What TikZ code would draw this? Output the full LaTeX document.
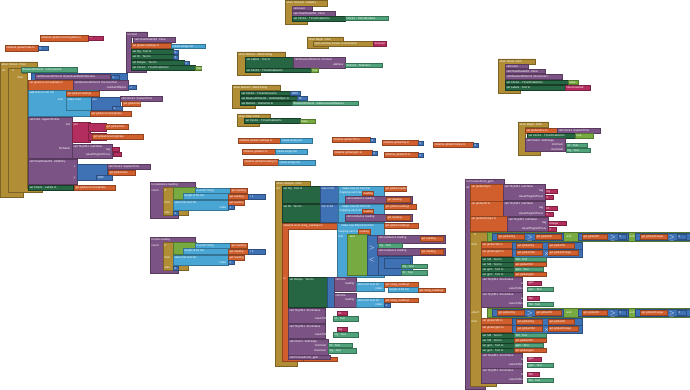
\documentclass[tikz,border=0pt]{standalone}
\usepackage{fontspec}
\setmainfont{Liberation Sans}
\definecolor{evtc}{HTML}{B18E35}
\definecolor{procc}{HTML}{7C5385}
\definecolor{setc}{HTML}{266643}
\definecolor{getc}{HTML}{4FA27A}
\definecolor{varc}{HTML}{D05F2D}
\definecolor{lstc}{HTML}{49A6D4}
\definecolor{mathc}{HTML}{3F71B5}
\definecolor{logc}{HTML}{77AB41}
\definecolor{txtc}{HTML}{B32D5E}
\tikzset{
  evtb/.style={fill=evtc, draw=evtc!70!black, line width=0.2pt},
  procb/.style={fill=procc, draw=procc!70!black, line width=0.2pt},
  setb/.style={fill=setc, draw=setc!60!black, line width=0.2pt},
  getb/.style={fill=getc, draw=getc!70!black, line width=0.2pt},
  varb/.style={fill=varc, draw=varc!70!black, line width=0.2pt},
  lstb/.style={fill=lstc, draw=lstc!70!black, line width=0.2pt},
  mathb/.style={fill=mathc, draw=mathc!70!black, line width=0.2pt},
  logb/.style={fill=logc, draw=logc!70!black, line width=0.2pt},
  txtb/.style={fill=txtc, draw=txtc!70!black, line width=0.2pt},
  lbl/.style={anchor=north west, inner sep=0.4pt, text=white, font=\fontsize{2.4}{2.6}\selectfont},
  rlbl/.style={lbl, anchor=north east}
}
% plain block: style, x1, y1, x2, y2, text
\newcommand{\blk}[6]{\filldraw[#1] (#2,#3) rectangle (#4,#5); \node[lbl] at (#2+0.8,#3+0.6) {#6};}
% c-shaped block: style, x1, y1, header right, header bottom, column right, bottom top, bottom, text
\newcommand{\cblk}[9]{\filldraw[#1] (#2,#3) -- (#4,#3) -- (#4,#5) -- (#6,#5) -- (#6,#7) -- (#6+15,#7) -- (#6+15,#8) -- (#2,#8) -- cycle; \node[lbl] at (#2+0.8,#3+0.6) {#9};}
% row label: x, y, text
\newcommand{\lab}[3]{\node[rlbl] at (#1,#2) {#3};}
\begin{document}
\begin{tikzpicture}[x=0.3mm,y=-0.3mm]
\fill[white] (0,0) rectangle (690,390);
\useasboundingbox (0,0) rectangle (690,390);

% globals top left
\blk{varb}{40}{35}{88}{41}{initialize global incomingData to}
\blk{txtb}{88}{36}{103}{40}{`` ''}
\blk{varb}{5}{45}{38}{51}{initialize global Data to}
\blk{mathb}{38}{46}{48}{50}{0}

% when Clock1.Timer
\cblk{evtb}{0}{62}{37}{68}{8}{192}{197}{when Clock1 .Timer}
\node[lbl] at (1.5,69) {do};
\cblk{evtb}{8}{68}{22}{73}{27}{188}{192}{\quad if}
\node[lbl] at (17,76) {then};
\blk{getb}{21}{67}{77}{72}{BluetoothClient1 . IsConnected}
\blk{mathb}{31}{73}{127}{80}{}
\blk{procb}{35}{74}{110}{79}{call BluetoothClient1 .BytesAvailableToReceive}
\blk{mathb}{111}{75}{119}{79}{0}
\blk{varb}{28}{80}{73}{90}{set global incomingData to}
\blk{procb}{73}{80}{128}{90}{call BluetoothClient1 .ReceiveText}
\lab{127}{85.5}{numberOfBytes}
\blk{mathb}{128}{85}{136}{89}{-1}
\blk{lstb}{28}{90}{97}{116}{add items to list \ list}
\lab{64}{98}{item}
\blk{varb}{66}{91}{99}{96}{get global readings}
\blk{lstb}{66}{97}{91}{110}{make a list}
\blk{mathb}{91}{97}{120}{110}{join}
\blk{procb}{120}{96}{162}{101}{call Clock1 .SystemTime}
\blk{varb}{122}{101}{140}{106}{get global time}
\blk{mathb}{112}{106}{122}{110}{1}
\blk{varb}{90}{111}{131}{116}{get global incomingData}
\blk{procb}{28}{117}{72}{158}{call File1 .AppendToFile}
\lab{71}{123}{text}
\lab{71}{147}{fileName}
\blk{txtb}{72}{122}{90}{142}{join}
\blk{txtb}{88}{123}{106}{131}{}
\blk{varb}{105}{124}{128}{129}{get global time}
\blk{txtb}{88}{133}{106}{140}{}
\blk{varb}{92}{134}{143}{139}{get global incomingData}
\blk{procb}{72}{144}{112}{158}{call TinyDB1 .GetValue}
\lab{111}{148}{tag}
\lab{111}{153}{valueIfTagNotThere}
\blk{txtb}{112}{147}{119}{151}{}
\blk{txtb}{113}{152}{121}{156}{}
\blk{procb}{28}{159}{77}{184}{call ChartData2D1 .AddEntry}
\lab{76}{165}{x}
\lab{76}{176}{y}
\blk{mathb}{77}{164}{107}{180}{}
\blk{procb}{107}{164}{150}{169}{call Clock1 .SystemTime}
\blk{varb}{108}{170}{135}{175}{get global time}
\blk{mathb}{96}{175}{112}{180}{1000}
\blk{setb}{28}{185}{73}{190}{set Chart1 . Labels to}
\blk{varb}{74}{185}{115}{190}{get global incomingData}

% to reset
\cblk{procb}{126}{32}{147}{37}{131}{70}{72}{to reset}
\blk{procb}{133}{37}{175}{42}{call ChartData2D1 .Clear}
\blk{varb}{131}{43}{171}{48}{set global readings to}
\blk{lstb}{171}{44}{205}{48}{create empty list}
\blk{setb}{131}{49}{173}{54}{set Rg . Text to}
\blk{mathb}{173}{50}{178}{54}{0}
\blk{setb}{131}{54}{173}{59}{set Rt . Text to}
\blk{mathb}{173}{55}{178}{59}{0}
\blk{setb}{131}{60}{184}{65}{set Rslope . Text to}
\blk{mathb}{184}{61}{189}{65}{0}
\blk{setb}{131}{65}{195}{70}{set Clock1 . TimerEnabled to}
\blk{logb}{195}{66}{201}{70}{false}

% when Screen1.Initialize
\cblk{evtb}{285}{0}{327}{6}{292}{21}{24}{when Screen1 .Initialize}
\blk{procb}{292}{6}{312}{10}{call reset}
\blk{procb}{292}{11}{335}{16}{call ChartData2D1 .Clear}
\blk{setb}{292}{16}{345}{21}{set Clock1 . TimerEnabled to}
\blk{getb}{345}{16}{388}{20}{Clock1 . TimerEnabled}

% when Begin.Click (top)
\cblk{evtb}{307}{37}{343}{41}{313}{45}{48}{when Begin .Click}
\blk{evtb}{313}{41}{373}{46}{open another screen screenName}
\blk{txtb}{373}{41}{386}{46}{Screen2}

% when Button1.AfterPicking
\cblk{evtb}{237}{52}{285}{57}{245}{72}{75}{when Button1 .AfterPicking}
\blk{setb}{245}{57}{293}{68}{set Labels . Text to}
\blk{procb}{293}{57}{345}{68}{call BluetoothClient1 .Connect}
\lab{344}{63}{address}
\blk{getb}{345}{63}{382}{67}{Button1 . Selection}
\blk{setb}{245}{68}{311}{72}{set Clock1 . TimerEnabled to}
\blk{logb}{311}{68}{318}{72}{true}

% when Button2.AfterPicking
\cblk{evtb}{232}{85}{280}{90}{240}{105}{108}{when Button2 .AfterPicking}
\blk{setb}{240}{91}{290}{95}{set Clock1 . TimerInterval to}
\blk{mathb}{290}{91}{300}{95}{1000}
\blk{setb}{240}{96}{297}{100}{set BluetoothClient1 . DelimiterByte to}
\blk{mathb}{297}{96}{307}{100}{10}
\blk{setb}{240}{101}{292}{105}{set Button1 . Elements to}
\blk{getb}{292}{101}{358}{105}{BluetoothClient1 . AddressesAndNames}

% when Stop.Click
\cblk{evtb}{237}{114}{270}{118}{244}{123}{126}{when Stop .Click}
\blk{setb}{244}{118}{300}{123}{set Clock1 . TimerEnabled to}
\blk{logb}{300}{119}{315}{123}{false}

% global variables
\blk{varb}{238}{138}{280}{143}{initialize global readings to}
\blk{lstb}{280}{138}{312}{143}{create empty list}
\blk{varb}{242}{149}{275}{154}{initialize global R to}
\blk{lstb}{275}{149}{307}{154}{create empty list}
\blk{varb}{243}{159}{278}{165}{initialize global trending to}
\blk{lstb}{278}{160}{315}{165}{create empty list}
\blk{varb}{332}{137}{370}{142}{initialize global SM to}
\blk{mathb}{370}{138}{375}{142}{0}
\blk{varb}{333}{150}{372}{155}{initialize global gpm to}
\blk{mathb}{372}{151}{377}{155}{0}
\blk{varb}{382}{140}{418}{145}{initialize global Rg to}
\blk{mathb}{418}{141}{423}{145}{0}
\blk{varb}{384}{152}{418}{157}{initialize global Rt to}
\blk{mathb}{418}{153}{423}{157}{0}
\blk{varb}{433}{142}{473}{147}{initialize global Rslope to}
\blk{mathb}{473}{143}{478}{147}{0}

% when Reset.Click
\cblk{evtb}{498}{59}{535}{64}{505}{90}{93}{when Reset .Click}
\blk{procb}{505}{64}{528}{68}{call reset}
\blk{procb}{505}{69}{545}{73}{call ChartData2D1 .Clear}
\blk{procb}{505}{74}{562}{79}{call BluetoothClient1 .Disconnect}
\blk{setb}{505}{80}{568}{84}{set Clock1 . TimerEnabled to}
\blk{logb}{568}{80}{578}{84}{false}
\blk{setb}{505}{85}{565}{90}{set Labels . Text to}
\blk{txtb}{565}{85}{590}{90}{Disconnected}

% when Begin.Click (right)
\cblk{evtb}{518}{122}{548}{127}{525}{151}{155}{when Begin .Click}
\blk{varb}{525}{128}{557}{133}{set global time to}
\blk{procb}{557}{128}{600}{133}{call Clock1 .SystemTime}
\blk{setb}{527}{133}{575}{138}{set Clock1 . TimerEnabled to}
\blk{logb}{575}{133}{593}{138}{true}
\blk{procb}{525}{138}{565}{151}{call Chart1 .SetRange}
\lab{564}{143}{minimum}
\lab{564}{147.5}{maximum}
\blk{getb}{566}{143}{587}{147}{Rt . Text}
\blk{getb}{566}{148}{590}{152}{Rg . Text}

% to resistance reading
\cblk{procb}{150}{182}{195}{188}{163}{215}{218}{to resistance reading}
\node[lbl] at (151,189) {result};
\cblk{evtb}{163}{187}{173}{187}{173}{210}{215}{}
\node[lbl] at (164,189) {if};
\node[lbl] at (164,201) {then};
\node[lbl] at (164,211) {else};
\blk{logb}{173}{187}{196}{199}{}
\blk{lstb}{195}{188}{230}{193}{is a list? thing}
\blk{varb}{230}{188}{247}{193}{get reading}
\blk{lstb}{183}{193}{228}{199}{length of list list}
\blk{varb}{228}{194}{248}{199}{get reading}
\blk{mathb}{248}{194}{265}{199}{= 1}
\blk{lstb}{173}{200}{228}{210}{select list item list}
\lab{227}{205.5}{index}
\blk{varb}{228}{200}{244}{205}{get reading}
\blk{mathb}{228}{205}{234}{209}{1}
\blk{mathb}{173}{211}{178}{215}{0}

% to time reading
\cblk{procb}{150}{237}{195}{243}{163}{270}{273}{to time reading}
\node[lbl] at (151,244) {result};
\cblk{evtb}{163}{242}{173}{242}{173}{265}{270}{}
\node[lbl] at (164,244) {if};
\node[lbl] at (164,256) {then};
\node[lbl] at (164,266) {else};
\blk{logb}{173}{242}{196}{254}{}
\blk{lstb}{195}{243}{230}{248}{is a list? thing}
\blk{varb}{230}{243}{247}{248}{get reading}
\blk{lstb}{183}{248}{228}{254}{length of list list}
\blk{varb}{228}{249}{248}{254}{get reading}
\blk{mathb}{248}{249}{265}{254}{= 2}
\blk{lstb}{173}{255}{228}{265}{select list item list}
\lab{227}{260.5}{index}
\blk{varb}{228}{255}{244}{260}{get reading}
\blk{mathb}{228}{260}{234}{264}{2}
\blk{mathb}{173}{266}{178}{270}{0}

% when Analyze.Click
\cblk{evtb}{275}{181}{310}{186}{282}{361}{366}{when Analyze .Click}
\node[lbl] at (276,187) {do};
\blk{setb}{282}{186}{320}{203}{set Rg . Text to}
\blk{mathb}{320}{186}{338}{203}{max in list}
\blk{lstb}{338}{186}{384}{203}{\quad make new list from list}
\node[lbl] at (339,191) {mapping each item};
\blk{varb}{362}{191}{373}{195}{reading}
\blk{varb}{384}{186}{406}{191}{get global readings}
\blk{procb}{345}{196}{412}{203}{call resistance reading}
\blk{varb}{386}{197}{410}{202}{get reading}
\blk{setb}{282}{204}{320}{222}{set Rt . Text to}
\blk{mathb}{320}{204}{338}{222}{min in list}
\blk{lstb}{338}{204}{384}{222}{\quad make new list from list}
\node[lbl] at (339,209) {mapping each item};
\blk{varb}{362}{209}{373}{213}{reading}
\blk{varb}{384}{204}{416}{209}{get global readings}
\blk{procb}{345}{214}{412}{221}{call resistance reading}
\blk{varb}{386}{215}{410}{220}{get reading}
\cblk{varb}{282}{223}{337}{229}{288}{357}{361}{initialize local rising\_readings to}
\filldraw[varb] (303,357) rectangle (337,361);
\node[lbl] at (283,277) {in};
\blk{lstb}{337}{223}{384}{277}{\quad make new filtered list from}
\node[lbl] at (338,229.5) {keeping each item};
\blk{varb}{358}{229.5}{370}{234}{reading}
\node[lbl] at (338,235) {test};
\blk{varb}{384}{223}{418}{228}{get global readings}
\blk{logb}{347}{234}{367}{275}{\ \ and}
\blk{mathb}{367}{235}{378}{275}{}
\blk{procb}{377}{235}{445}{243}{call resistance reading}
\blk{varb}{420}{236}{443}{241}{get reading}
\node[lbl] at (368,245) {$>$};
\blk{getb}{378}{243}{402}{248}{Rg . Text}
\blk{procb}{377}{248}{445}{255}{call resistance reading}
\blk{varb}{420}{249}{443}{254}{get reading}
\node[lbl] at (368,257) {$<$};
\blk{mathb}{378}{256}{412}{275}{}
\blk{mathb}{384}{258}{410}{268}{}
\blk{getb}{401}{264}{427}{268}{Rg . Text}
\blk{getb}{401}{270}{427}{275}{Rt . Text}
\blk{setb}{288}{277}{327}{307}{set Rslope . Text to}
\blk{mathb}{327}{277}{334}{307}{}
\blk{procb}{334}{277}{356}{291}{call time}
\lab{355}{282}{reading}
\blk{lstb}{356}{282}{384}{291}{select list item list}
\lab{383}{287}{index}
\blk{varb}{384}{282}{418}{287}{get rising\_readings}
\blk{lstb}{388}{287}{418}{292}{length of list list}
\blk{varb}{418}{288}{445}{292}{get rising\_readings}
\blk{procb}{334}{293}{356}{307}{call time}
\lab{355}{298}{reading}
\blk{lstb}{356}{298}{384}{307}{select list item list}
\lab{383}{303}{index}
\blk{varb}{384}{298}{418}{302}{get rising\_readings}
\blk{mathb}{384}{303}{390}{307}{1}
\blk{procb}{288}{308}{325}{323}{call TinyDB1 .StoreValue}
\lab{336}{312}{tag}
\lab{332}{317}{valueToStore}
\blk{txtb}{337}{311}{347}{315}{Rt}
\blk{getb}{333}{316}{358}{321}{Rt . Text}
\blk{procb}{288}{324}{325}{338}{call TinyDB1 .StoreValue}
\lab{336}{328}{tag}
\lab{332}{333}{valueToStore}
\blk{txtb}{337}{327}{347}{331}{Rg}
\blk{getb}{333}{332}{358}{337}{Rg . Text}
\blk{procb}{288}{339}{328}{355}{call Chart1 .SetRange}
\lab{327}{344}{minimum}
\lab{327}{349}{maximum}
\blk{getb}{328}{343}{352}{347}{Rt . Text}
\blk{getb}{328}{348}{356}{353}{Rg . Text}
\blk{procb}{288}{355}{330}{359}{call ProcessForm\_gpm}

% to ProcessForm_gpm
\cblk{procb}{465}{179}{504}{184}{470}{385}{389}{to ProcessForm\_gpm}
\node[lbl] at (465.5,186) {do};
\blk{varb}{470}{184}{503}{201}{set global Rg to}
\blk{procb}{503}{184}{545}{200}{call TinyDB1 .GetValue}
\lab{544}{189}{tag}
\lab{544}{195}{valueIfTagNotThere}
\blk{txtb}{545}{189}{557}{193}{Rg}
\blk{txtb}{545}{195}{553}{199}{0}
\blk{varb}{470}{201}{503}{216}{set global Rt to}
\blk{procb}{503}{201}{545}{216}{call TinyDB1 .GetValue}
\lab{544}{205.5}{tag}
\lab{544}{211.5}{valueIfTagNotThere}
\blk{txtb}{545}{206}{557}{210}{Rt}
\blk{txtb}{545}{212}{553}{216}{0}
\blk{varb}{470}{216}{507}{231}{set global Rslope to}
\blk{procb}{507}{217}{548}{231}{call TinyDB1 .GetValue}
\lab{547}{221}{tag}
\lab{547}{226.5}{valueIfTagNotThere}
\blk{txtb}{548}{221}{566}{225}{Rslope}
\blk{txtb}{548}{227}{556}{231}{0}
\cblk{evtb}{470}{232}{487}{241}{481}{382}{386}{\quad if}
\node[lbl] at (471,243) {then};
\node[lbl] at (471,311) {else if};
\node[lbl] at (471,320) {then};
\foreach \dy in {0,76} {
  \blk{logb}{487}{232+\dy}{690}{241+\dy}{}
  \blk{mathb}{492}{233+\dy}{563}{240+\dy}{}
  \blk{varb}{497}{234+\dy}{524}{239+\dy}{get global Rg}
  \node[lbl] at (526,234.5+\dy) {$\geq$};
  \blk{varb}{535}{234+\dy}{561}{239+\dy}{get global Rt}
  \node[lbl] at (566,234.5+\dy) {and};
  \blk{mathb}{578}{233+\dy}{628}{240+\dy}{}
  \blk{varb}{582}{234+\dy}{607}{239+\dy}{get global Rt}
  \node[lbl] at (609,234.5+\dy) {$\geq$};
  \blk{mathb}{618}{234+\dy}{626}{239+\dy}{0}
  \node[lbl] at (629,234.5+\dy) {and};
  \blk{mathb}{635}{233+\dy}{690}{240+\dy}{}
  \blk{varb}{640}{234+\dy}{667}{239+\dy}{get global Rslope}
  \node[lbl] at (668,234.5+\dy) {$\geq$};
  \blk{mathb}{677}{234+\dy}{686}{239+\dy}{0}
  % then rows
  \blk{varb}{481}{242+\dy}{517}{248+\dy}{set global SM to}
  \blk{mathb}{512}{242+\dy}{582}{249+\dy}{}
  \blk{varb}{516}{243+\dy}{542}{248+\dy}{get global Rg}
  \node[lbl] at (543,243.5+\dy) {-};
  \blk{varb}{548}{243+\dy}{574}{248+\dy}{get global Rt}
  \blk{varb}{481}{249+\dy}{517}{256+\dy}{set global gpm to}
  \blk{mathb}{512}{249+\dy}{582}{257+\dy}{}
  \blk{varb}{516}{250+\dy}{542}{255+\dy}{get global SM}
  \node[lbl] at (543,250.5+\dy) {$\times$};
  \blk{varb}{548}{250+\dy}{578}{255+\dy}{get global Rslope}
  \blk{setb}{481}{257+\dy}{514}{262+\dy}{set SM . Text to}
  \blk{getb}{514}{257.5+\dy}{546}{261.5+\dy}{SM . Text}
  \blk{setb}{481}{262+\dy}{514}{267+\dy}{set SM . Text to}
  \blk{varb}{514}{262.5+\dy}{546}{266.5+\dy}{get global SM}
  \blk{setb}{481}{267+\dy}{514}{272+\dy}{set gpm . Text to}
  \blk{getb}{514}{267.5+\dy}{543}{271.5+\dy}{gpm . Text}
  \blk{setb}{481}{272+\dy}{514}{277+\dy}{set gpm . Text to}
  \blk{varb}{514}{272.5+\dy}{546}{276.5+\dy}{get global gpm}
  \blk{procb}{481}{277+\dy}{522}{292+\dy}{call TinyDB1 .StoreValue}
  \lab{526}{281.5+\dy}{tag}
  \lab{526}{287+\dy}{valueToStore}
  \blk{txtb}{527}{281+\dy}{541}{285+\dy}{gpm}
  \blk{getb}{527}{287+\dy}{553}{291+\dy}{gpm . Text}
  \blk{procb}{481}{292+\dy}{522}{307+\dy}{call TinyDB1 .StoreValue}
  \lab{526}{296.5+\dy}{tag}
  \lab{526}{302+\dy}{valueToStore}
  \blk{txtb}{527}{296+\dy}{539}{300+\dy}{SM}
  \blk{getb}{527}{302+\dy}{553}{306+\dy}{SM . Text}
}
\end{tikzpicture}
\end{document}
